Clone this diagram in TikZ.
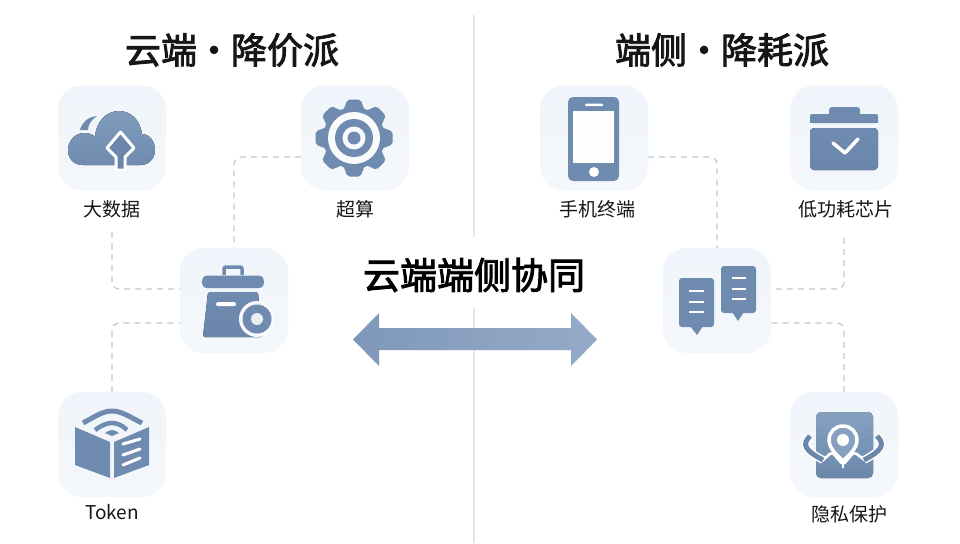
\documentclass[tikz,border=0pt]{standalone}
\usepackage{fontspec}
\setmainfont{Noto Sans CJK SC}
\newfontfamily\heavycjk[FakeBold=2.4]{Noto Sans CJK SC}
\usepackage{xcolor}
\definecolor{slate}{HTML}{6F8CB0}
\definecolor{slatelight}{HTML}{86A1C0}
\definecolor{slatedark}{HTML}{6A87AB}
\definecolor{tilecol}{HTML}{F0F5FB}
\definecolor{tilelow}{HTML}{F4F8FC}
\definecolor{dashcol}{HTML}{BFC9D6}
\definecolor{splitcol}{HTML}{E5E6E8}
\definecolor{inkcol}{HTML}{161616}
\definecolor{arrowa}{HTML}{7F98B9}
\definecolor{arrowb}{HTML}{95AAC8}
\tikzset{
  tile/.style={
    draw=none,
    minimum width=108,
    minimum height=105,
    rounded corners=24,
    top color=tilecol,
    bottom color=tilelow,
  },
  caption/.style={text=inkcol,font=\fontsize{19}{21}\selectfont},
  headline/.style={text=inkcol,font=\fontsize{36}{40}\selectfont\heavycjk},
  link/.style={draw=dashcol,line width=1.3,dash pattern=on 6 off 5,rounded corners=7},
  icon/.style={fill=slate,draw=none},
  cutline/.style={draw=white,line width=2.6,line cap=round,line join=round},
}
\begin{document}
\begin{tikzpicture}[x=1pt,y=-1pt]
    \useasboundingbox (0,0) rectangle (960,543);
    \fill[white] (0,0) rectangle (960,543);
    \fill[splitcol] (472.8,15) rectangle (475.4,237);
    \fill[splitcol] (472.8,308) rectangle (475.4,543);

    \node[headline](titleL) at (232,50) {云端\hspace{-1pt}·\hspace{-1pt}降价派};
    \node[headline](titleR) at (722,50) {端侧\hspace{-1pt}·\hspace{-1pt}降耗派};
    \node[text=black,font=\fontsize{37}{40}\selectfont\heavycjk](mid) at (474,275) {云端端侧协同};

    \node[tile](cloud) at (112,138) {};
    \node[tile](gear) at (355,138) {};
    \node[tile](hubL) at (234,300.5) {};
    \node[tile](token) at (112,444.5) {};
    \node[tile](phone) at (594,138) {};
    \node[tile](chip) at (844,138) {};
    \node[tile](hubR) at (717,300.5) {};
    \node[tile](privacy) at (844,444.5) {};

    \node[caption](lblCloud) at (112,209) {大数据};
    \node[caption](lblGear) at (355,209) {超算};
    \node[caption](lblToken) at (112,512) {Token};
    \node[caption](lblPhone) at (597,209) {手机终端};
    \node[caption](lblChip) at (846,209) {低功耗芯片};
    \node[caption](lblPrivacy) at (849,514) {隐私保护};

    % connectors
    \coordinate (hubLa) at ([yshift=11.5pt]hubL.west);
    \coordinate (hubLb) at ([yshift=-22.5pt]hubL.west);
    \coordinate (hubRa) at ([yshift=11.5pt]hubR.east);
    \coordinate (hubRb) at ([yshift=-22.5pt]hubR.east);
    \coordinate (gearW) at ([yshift=-19pt]gear.west);
    \coordinate (phoneE) at ([yshift=-19pt]phone.east);
    \coordinate (cloudEnd) at (112,232);
    \coordinate (chipEnd) at (844,238);
    \draw[link] (cloudEnd) |- (hubLa);
    \draw[link] (gearW) -| (hubL.north);
    \draw[link] (token.north) |- (hubLb);
    \draw[link] (phoneE) -| (hubR.north);
    \draw[link] (chipEnd) |- (hubRa);
    \draw[link] (privacy.north) |- (hubRb);

    % big arrow
    \path[left color=arrowa,right color=arrowb]
      (353,339.5) -- (379,313) -- (379,328) -- (571,328) -- (571,313) -- (597,339.5)
      -- (571,366) -- (571,350) -- (379,350) -- (379,366) -- cycle;

    % cloud
    \fill[icon] (80,130) .. controls (82,122) and (88,117) .. (97,116) .. controls (91,120) and (88,125) .. (88,130) -- cycle;
    \fill[top color=slatelight!70!slate,bottom color=slate]
      (83,165) .. controls (73,165) and (68,158) .. (68,150)
      .. controls (68,141) and (75,133) .. (84,133)
      .. controls (90,133) and (94,135) .. (95,137)
      .. controls (96,122) and (106,111) .. (119,111)
      .. controls (131,111) and (140,120) .. (142,134)
      .. controls (150,134) and (155,142) .. (155,150)
      .. controls (155,158) and (149,165) .. (141,165) -- cycle;
    \path[fill=slatedark,cutline,line width=3]
      (120.5,132) -- (107,148) -- (116,157) -- (116,170) -- (125,170) -- (125,157) -- (134,148) -- cycle;

    % gear
    \begin{scope}[shift={(354,138)}]
        \foreach \a in {0,45,...,315}{
            \fill[icon,rotate=\a,rounded corners=2] (-6.5,-38.5) -- (6.5,-38.5) -- (11,-27) -- (-11,-27) -- cycle;
        }
        \fill[icon] (0,0) circle (31);
        \fill[white!60!tilecol] (0,0) circle (26);
        \fill[icon] (0,0) circle (19);
        \fill[white!60!tilecol] (0,0) circle (11.5);
        \fill[icon] (0,0) circle (6.5);
    \end{scope}

    % case with dot
    \draw[slate,line width=3.5,rounded corners=2] (224,275) -- (224,267) -- (242,267) -- (242,275);
    \fill[icon] (207,275.5) -- (259,275.5) .. controls (266,276) and (266,288) .. (259,288) -- (207,288) .. controls (200,288) and (200,276) .. (207,275.5) -- cycle;
    \fill[top color=slate,bottom color=slatedark,rounded corners=2] (208,292) -- (258,292) -- (262,337) -- (203,337) -- cycle;
    \fill[white,rounded corners=1.5] (216,302) rectangle (236,306);
    \fill[white!50!tilecol] (257,319) circle (18);
    \fill[icon] (257,319) circle (14.5);
    \fill[white!85!slate] (257,319) circle (6);

    % book
    \fill[icon] (75,427) -- (110,442) -- (110,478) -- (75,465) -- cycle;
    \fill[icon] (114,442) -- (149,427) -- (149,465) -- (114,478) -- cycle;
    \draw[white,line width=3,line cap=round] (123,444) -- (140,439);
    \draw[white,line width=3,line cap=round] (123,455) -- (140,449);
    \draw[white,line width=3,line cap=round] (123,465) -- (140,458);
    \draw[slate,line width=5] (83,423) .. controls (96,416) and (103,411) .. (112,411) .. controls (121,411) and (128,416) .. (142,423);
    \draw[slate,line width=4.5] (95,430) .. controls (102,425) and (107,423) .. (112,423) .. controls (117,423) and (122,425) .. (127,430);
    \fill[icon] (105,433) .. controls (108,431) and (110,430) .. (112,430) .. controls (114,430) and (116,431) .. (119,433) -- (112,436) -- cycle;

    % phone
    \fill[icon,rounded corners=5] (568,97) rectangle (619,181);
    \fill[white!92!tilecol] (573,111) rectangle (614,163);
    \fill[white,rounded corners=1] (585,103.5) rectangle (603,106);
    \fill[white] (594,172) circle (5);

    % briefcase
    \fill[icon,rounded corners=3] (829,107) rectangle (860,118);
    \fill[icon,rounded corners=2] (810,114) rectangle (878,123);
    \fill[slate] (810,118) rectangle (878,123);
    \fill[top color=slate,bottom color=slatedark,rounded corners=4] (810,128) -- (878,128) -- (878,170) -- (810,170) -- cycle;
    \draw[white,line width=3.5,line cap=round,line join=round] (833,143) -- (845,153) -- (858,139);

    % bubbles
    \fill[icon,rounded corners=3] (679,278) rectangle (714,327);
    \fill[icon] (690,326) -- (703,326) -- (697,335) -- cycle;
    \fill[icon,rounded corners=3] (721,266) rectangle (756,313);
    \fill[icon] (732,312) -- (744,312) -- (738,321) -- cycle;
    \foreach \y in {291,302,312}{
        \draw[white,line width=2.8] (689,\y) -- (704,\y);
    }
    \foreach \y in {278,289,299}{
        \draw[white,line width=2.8] (732,\y) -- (746,\y);
    }

    % privacy
    \fill[top color=slatelight,bottom color=slatedark,rounded corners=5] (816,412) rectangle (873,478);
    \draw[cutline,line width=2.6,rounded corners=3] (822,461) -- (832,452) -- (843,465) -- (854,452) -- (866,461);
    \draw[white,line width=2.6] (843,460) -- (843,468);
    \path[fill=slatelight,draw=white,line width=3.5,line join=round]
      (843,461) .. controls (838,456) and (829,449) .. (829,440) .. controls (829,432) and (835,426) .. (843,426) .. controls (851,426) and (857,432) .. (857,440) .. controls (857,449) and (848,456) .. (843,461) -- cycle;
    \fill[white] (843,440) circle (6);
    \draw[white,line width=8] (810,436) .. controls (801,445) and (806,451) .. (823,460);
    \draw[white,line width=8] (877,436) .. controls (886,445) and (881,451) .. (864,460);
    \draw[slatedark,line width=5] (810,436) .. controls (801,445) and (806,451) .. (823,460);
    \draw[slatedark,line width=5] (877,436) .. controls (886,445) and (881,451) .. (864,460);
\end{tikzpicture}
\end{document}
